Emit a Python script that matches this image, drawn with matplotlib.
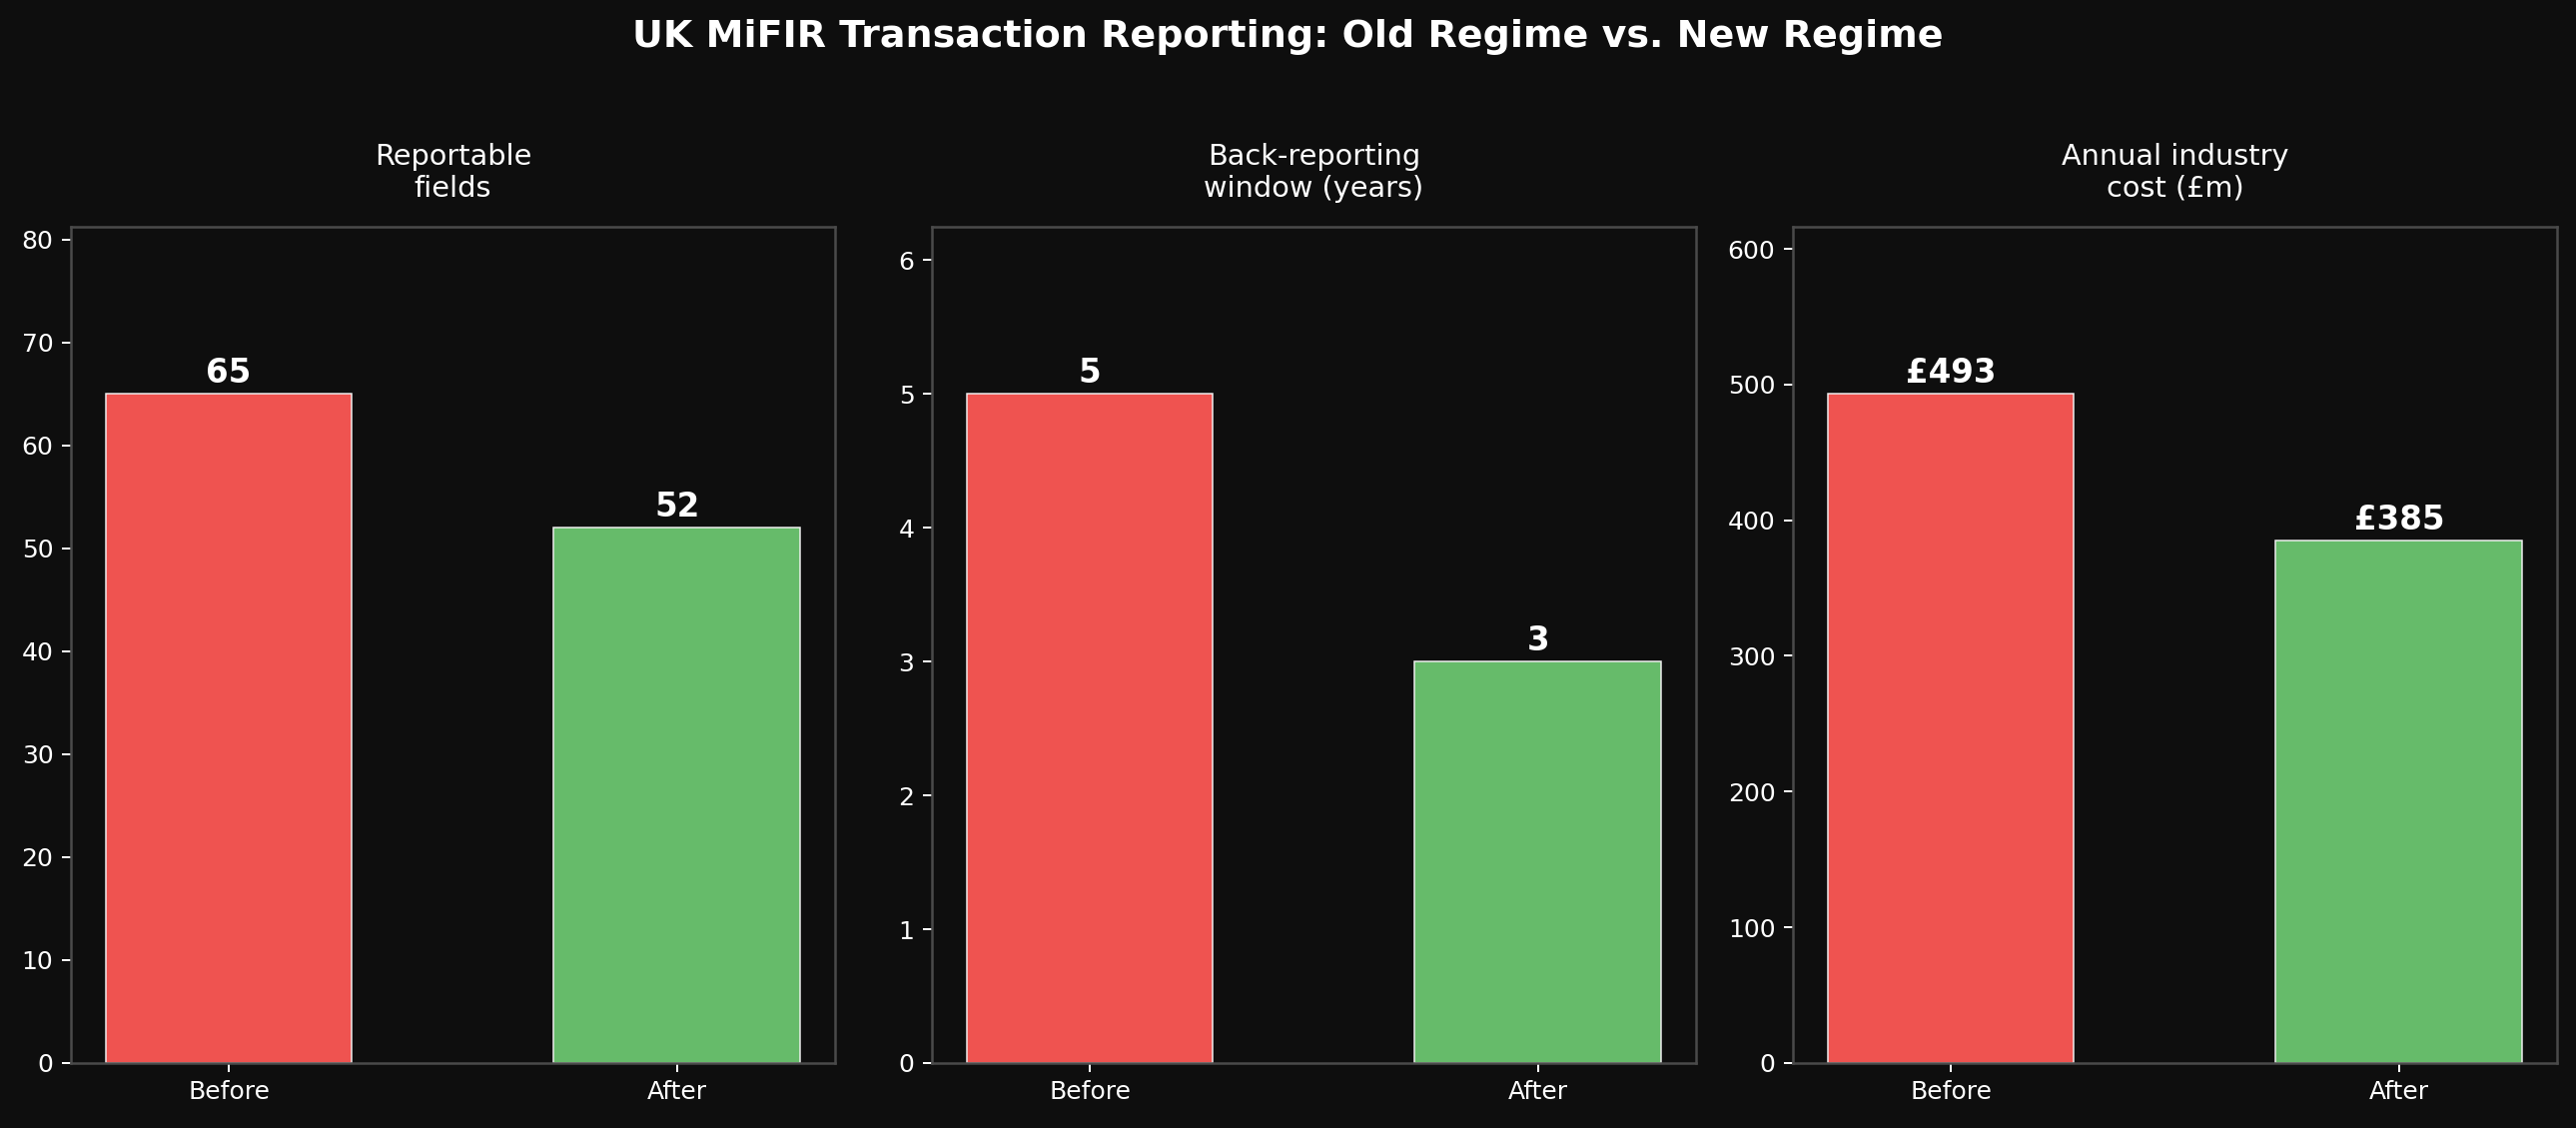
import numpy as np
import matplotlib
matplotlib.use("Agg")
import matplotlib.pyplot as plt

# data
regimes = ["Before", "After"]
metric_titles = ["Reportable\nfields", "Back-reporting\nwindow (years)", "Annual industry\ncost (£m)"]
fields_vals = [65, 52]
window_vals = [5, 3]
cost_vals = [493, 385]
label_fmts = ["{:.0f}", "{:.0f}", "£{:.0f}"]

BG = "#0e0e0e"
RED = "#ef5350"
GREEN = "#66bb6a"

plt.rcParams["font.family"] = ["DejaVu Sans"]

fig, axes = plt.subplots(1, 3, figsize=(2579 / 180, 1129 / 180), dpi=180)
fig.patch.set_facecolor(BG)
fig.subplots_adjust(left=0.0275, right=0.9926, top=0.799, bottom=0.0576, wspace=0.1268)

all_vals = [fields_vals, window_vals, cost_vals]
x = np.arange(len(regimes))

for ax, vals, title, fmt in zip(axes, all_vals, metric_titles, label_fmts):
    ax.set_facecolor(BG)
    bars = ax.bar(x, vals, width=0.55, color=[RED, GREEN], edgecolor="#f0f0f0", linewidth=0.6)
    ax.set_ylim(0, max(vals) * 1.25)
    ax.set_xticks(x)
    ax.set_xticklabels(regimes)
    ax.tick_params(colors="white", labelsize=10)
    for s in ax.spines.values():
        s.set_color("#4a4a4a")
        s.set_linewidth(1.0)
    ax.set_title(title, color="white", fontsize=11.5, pad=12)
    for b, v in zip(bars, vals):
        ax.annotate(fmt.format(v), (b.get_x() + b.get_width() / 2, v),
                    xytext=(0, 1.6), textcoords="offset points",
                    ha="center", va="bottom", color="white",
                    fontsize=13, fontweight="bold")

fig.text(0.5, 1 - 47 / 1129, "UK MiFIR Transaction Reporting: Old Regime vs. New Regime",
         ha="center", va="baseline", color="white", fontsize=15.2, fontweight="bold")

fig.savefig("out.png", dpi=180, facecolor=BG)
